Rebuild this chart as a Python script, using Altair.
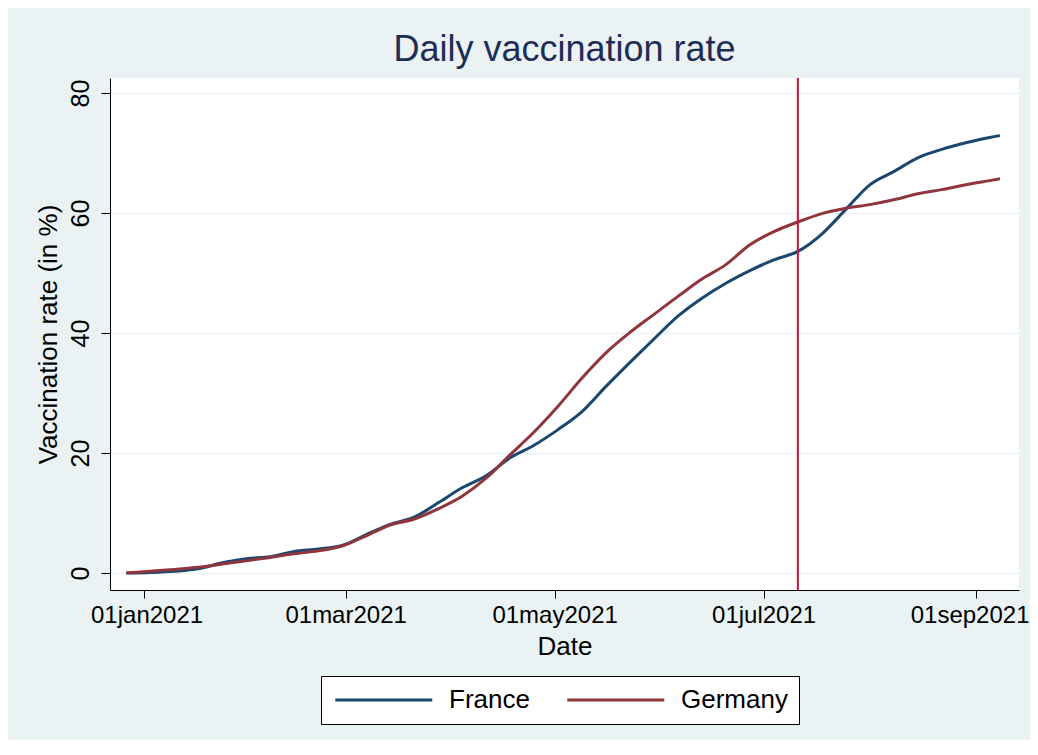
import altair as alt
import pandas as pd

# ---- data ----
dates = [
    "2020-12-27", "2021-01-03", "2021-01-10", "2021-01-17", "2021-01-24", "2021-01-31",
    "2021-02-07", "2021-02-14", "2021-02-21", "2021-02-28", "2021-03-07", "2021-03-14",
    "2021-03-21", "2021-03-28", "2021-04-04", "2021-04-11", "2021-04-18", "2021-04-25",
    "2021-05-02", "2021-05-09", "2021-05-16", "2021-05-23", "2021-05-30", "2021-06-06",
    "2021-06-13", "2021-06-20", "2021-06-27", "2021-07-04", "2021-07-11", "2021-07-18",
    "2021-07-25", "2021-08-01", "2021-08-08", "2021-08-15", "2021-08-22", "2021-08-29",
    "2021-09-05", "2021-09-08",
]
france = [
    0.0, 0.1, 0.3, 0.7, 1.7, 2.4,
    2.7, 3.6, 4.0, 4.6, 6.4, 8.1,
    9.3, 11.7, 14.2, 16.2, 19.2, 21.3,
    23.9, 26.9, 31.1, 35.1, 39.0, 42.8,
    45.8, 48.3, 50.4, 52.2, 53.6, 56.5,
    60.6, 64.7, 66.9, 69.2, 70.6, 71.7,
    72.6, 72.9,
]
germany = [
    0.0, 0.3, 0.6, 0.95, 1.5, 2.05,
    2.6, 3.2, 3.7, 4.5, 6.2, 8.0,
    9.0, 10.7, 12.8, 15.8, 19.7, 23.5,
    27.8, 32.5, 36.7, 40.1, 43.1, 46.1,
    49.0, 51.4, 54.7, 56.9, 58.5, 59.9,
    60.8, 61.4, 62.2, 63.2, 63.9, 64.7,
    65.4, 65.7,
]
countries = ["France", "Germany"]
colors = ["#1a476f", "#90353b"]
marker_date = ["2021-07-11"]
x_tick_months = [1, 3, 5, 7, 9]
y_ticks = [0, 20, 40, 60, 80]

FONT = "Liberation Sans"

rows = []
for d, f, g in zip(dates, france, germany):
    rows.append({"date": d + "T00:00:00", "country": "France", "rate": f})
    rows.append({"date": d + "T00:00:00", "country": "Germany", "rate": g})
df = pd.DataFrame(rows)
rule_df = pd.DataFrame({"date": [d + "T00:00:00" for d in marker_date]})

x_scale = alt.Scale(
    domain=[alt.DateTime(year=2020, month=12, date=22, hours=5, minutes=17),
            alt.DateTime(year=2021, month=9, date=13, hours=13, minutes=12)],
    nice=False,
)
y_scale = alt.Scale(domain=[-2.83, 82.5], nice=False, zero=False)

x_axis = alt.Axis(
    values=[alt.DateTime(year=2021, month=m, date=1) for m in x_tick_months],
    labelExpr="lower(timeFormat(datum.value, '%d%b%Y'))",
    title="Date", grid=False, tickSize=8, labelPadding=5,
    labelFontSize=24, titleFontSize=26, titleFontWeight="normal",
    titlePadding=6, labelFlush=45, labelFlushOffset=53, labelOverlap=False,
    domainColor="black", tickColor="black", labelColor="black", titleColor="black",
    labelFont=FONT, titleFont=FONT,
)
y_axis = alt.Axis(
    values=y_ticks, title="Vaccination rate (in %)", grid=True,
    gridColor="#EAF2F3", gridWidth=1.5,
    labelAngle=270, labelAlign="center", labelBaseline="alphabetic",
    labelPadding=13, tickSize=9, labelFontSize=25,
    titleFontSize=26, titleFontWeight="normal",
    titleAngle=270, titleAlign="center", titleBaseline="bottom",
    titleX=-49, titleY=256,
    domainColor="black", tickColor="black", labelColor="black", titleColor="black",
    labelFont=FONT, titleFont=FONT,
)

lines = alt.Chart(df).mark_line(strokeWidth=3, interpolate="monotone").encode(
    x=alt.X("date:T", scale=x_scale, axis=x_axis),
    y=alt.Y("rate:Q", scale=y_scale, axis=y_axis),
    color=alt.Color(
        "country:N",
        scale=alt.Scale(domain=countries, range=colors),
        legend=alt.Legend(
            orient="none", legendX=211, legendY=598, direction="horizontal",
            title=None, symbolType="M-1,0H9", symbolSize=376, symbolStrokeWidth=3,
            labelFontSize=26, labelFont=FONT, labelColor="black", labelOffset=91,
            columnPadding=31, padding=11, fillColor="white", strokeColor="black",
        ),
    ),
)

rule = alt.Chart(rule_df).mark_rule(color="#c8143c", strokeWidth=2).encode(
    x=alt.X("date:T", scale=x_scale)
)

chart = alt.layer(lines, rule).properties(
    width=909,
    height=512,
    title=alt.TitleParams(
        "Daily vaccination rate", fontSize=36, color="#1e2d55", font=FONT,
        fontWeight="normal", offset=8, anchor="middle",
    ),
    autosize=alt.AutoSizeParams(type="none"),
    padding={"left": 102, "top": 70, "right": 11, "bottom": 150},
).configure(
    background="#EAF2F3",
).configure_view(
    fill="white", strokeWidth=0,
)

chart.save("out.html", embed_options={"renderer": "svg", "actions": False})
